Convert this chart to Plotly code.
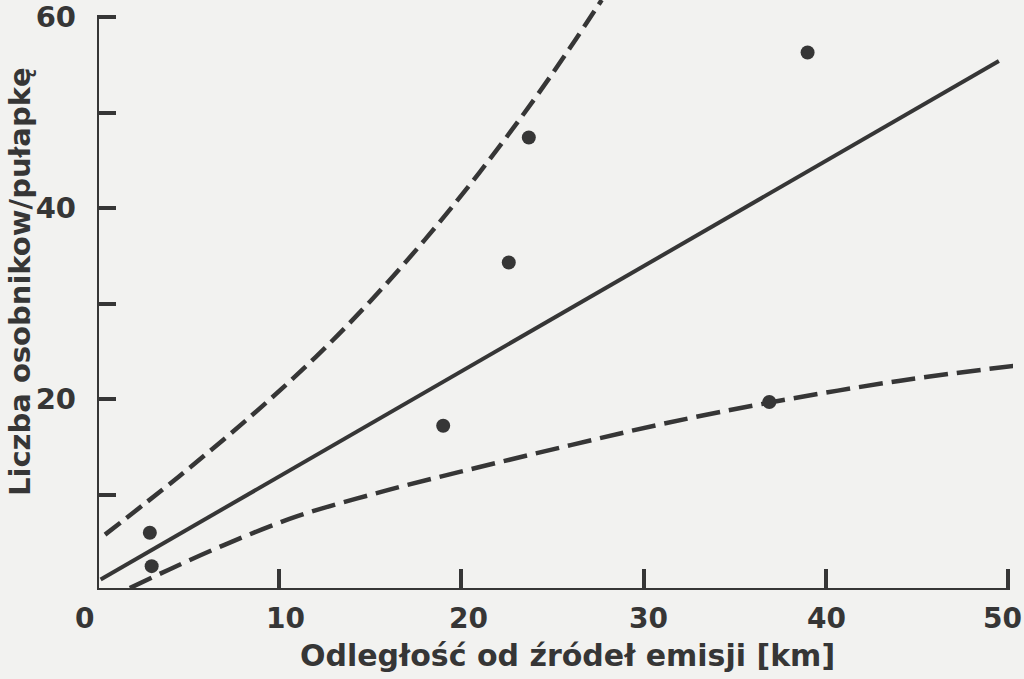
import plotly.graph_objects as go

# Measured points
pts_x = [2.9, 3.0, 19.0, 22.6, 23.7, 36.9, 39.0]
pts_y = [6.0, 2.5, 17.2, 34.3, 47.4, 19.7, 56.3]

# Regression line (solid)
fit_x = [0.2, 49.5]
fit_y = [1.1, 55.4]

# Upper confidence curve (dashed)
up_x = [0.44, 4.5, 8.5, 12.0, 15.0, 18.0, 21.0, 24.0, 26.0, 27.7]
up_y = [5.8, 11.9, 18.3, 24.4, 30.25, 36.7, 43.75, 51.4, 56.9, 61.8]

# Lower confidence curve (dashed)
lo_x = [1.8, 4.0, 7.0, 11.0, 16.0, 21.0, 26.0, 31.0, 37.0, 44.0, 50.3]
lo_y = [0.2, 2.18, 4.73, 7.73, 10.48, 12.88, 15.18, 17.38, 19.66, 21.9, 23.48]

x_ticks = [0, 10, 20, 30, 40, 50]
x_ticklabels = ["0", "10", "20", "30", "40", "50"]
y_ticks = [10, 20, 30, 40, 50, 60]
y_ticklabels = ["", "20", "", "40", "", "60"]

x_title = "Odległość od źródeł emisji [km]"
y_title = "Liczba osobnikow/pułapkę"

INK = "#363636"
BG = "#f2f2f0"
FONT = "DejaVu Sans"

fig = go.Figure()
fig.add_trace(go.Scatter(x=up_x, y=up_y, mode="lines", line=dict(color=INK, width=4.5, dash="19px,8px", shape="spline", smoothing=1.0), hoverinfo="skip"))
fig.add_trace(go.Scatter(x=lo_x, y=lo_y, mode="lines", line=dict(color=INK, width=4.5, dash="24px,9px", shape="spline", smoothing=1.0), hoverinfo="skip"))
fig.add_trace(go.Scatter(x=fit_x, y=fit_y, mode="lines", line=dict(color=INK, width=4), hoverinfo="skip"))
fig.add_trace(go.Scatter(x=pts_x, y=pts_y, mode="markers", marker=dict(color=INK, size=14, line=dict(width=0))))

# axis lines
fig.add_shape(type="line", x0=0, x1=0, y0=0, y1=60, xref="x", yref="y", line=dict(color=INK, width=4))
fig.add_shape(type="line", x0=0, x1=50, y0=0, y1=0, xref="x", yref="y", line=dict(color=INK, width=4))

L, R, T, B = 97, 11, 0, 89
pw = 1024 - L - R
ph = 679 - T - B

def px(xp):
    return (xp - L) / pw

def py(yp):
    return (679 - B - yp) / ph

tick_font = dict(size=28, family=FONT, color=INK, weight="bold")

# x tick labels drawn as annotations so the end labels sit like in the original
x_label_px = [84, 285, 468, 648, 826, 1002]
annotations = [
    dict(text=x_title, x=px(567), y=py(655), xref="paper", yref="paper", showarrow=False,
         xanchor="center", yanchor="middle",
         font=dict(size=30, family=FONT, color=INK, weight="bold")),
    dict(text=y_title, x=px(20), y=py(282), xref="paper", yref="paper", showarrow=False,
         textangle=-90, xanchor="center", yanchor="middle",
         font=dict(size=29, family=FONT, color=INK, weight="bold")),
]
for lab, xp in zip(x_ticklabels, x_label_px):
    annotations.append(dict(text=lab, x=px(xp), y=py(618), xref="paper", yref="paper",
                            showarrow=False, xanchor="center", yanchor="middle", font=tick_font))

fig.update_layout(
    width=1024, height=679,
    margin=dict(l=L, r=R, t=T, b=B, autoexpand=False),
    paper_bgcolor=BG, plot_bgcolor=BG,
    showlegend=False,
    font=dict(family=FONT, color=INK, size=28),
    annotations=annotations,
)

fig.update_xaxes(range=[0, 50 * pw / (1008 - L)], showgrid=False, zeroline=False, showline=False,
                 automargin=False, showticklabels=False,
                 tickvals=x_ticks, ticks="inside", ticklen=21, tickwidth=3.5, tickcolor=INK)
fig.update_yaxes(range=[0, 61.8], showgrid=False, zeroline=False, showline=False,
                 automargin=False,
                 tickvals=y_ticks, ticktext=y_ticklabels, ticks="inside", ticklen=19, tickwidth=3.5,
                 tickcolor=INK, ticklabelstandoff=20,
                 tickfont=dict(size=29, family=FONT, color=INK, weight="bold"))

fig.write_html("out.html", config={"displayModeBar": False},
               post_script="document.body.style.margin='0';document.body.style.background='%s';" % BG)
